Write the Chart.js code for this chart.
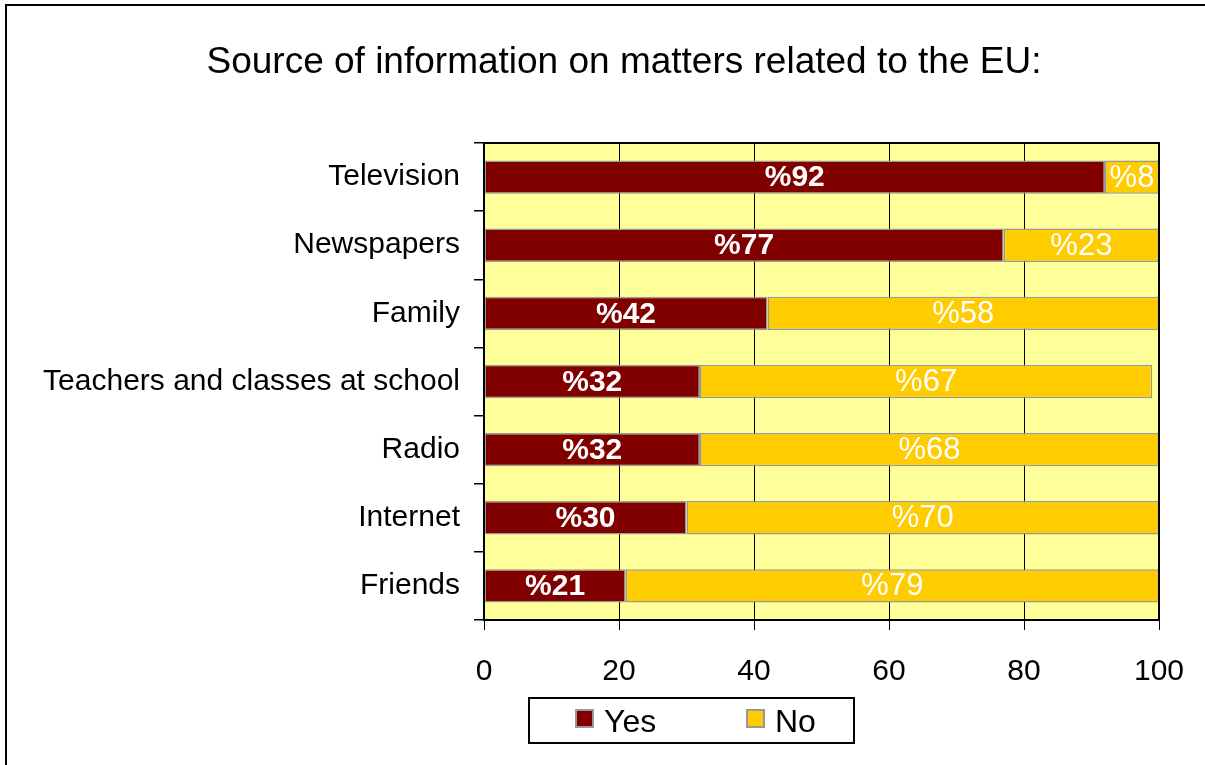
<!DOCTYPE html>
<html>
<head>
<meta charset="utf-8">
<script src="https://cdn.jsdelivr.net/npm/chart.js@4.4.1/dist/chart.umd.min.js"></script>
<style>
  html, body { margin: 0; padding: 0; background: #fff; }
  body { width: 1205px; height: 765px; position: relative; overflow: hidden; font-family: "Liberation Sans", Arial, sans-serif; }
  #frame { position: absolute; left: 5px; top: 4px; width: 1300px; height: 900px; border: 2px solid #000; box-sizing: border-box; pointer-events: none; }
  #wrap { position: absolute; left: 0; top: 0; width: 1205px; height: 765px; }
  #title { position: absolute; left: 124px; width: 1000px; top: 39px; text-align: center; font-size: 37px; line-height: 44px; color: #000; white-space: nowrap; }
  #legend { position: absolute; left: 528px; top: 697px; width: 327px; height: 47px; border: 2px solid #000; box-sizing: border-box; background: #fff; }
  .item { position: absolute; top: 6px; font-size: 32px; line-height: 32px; color: #000; }
  .sw { position: absolute; top: 10px; width: 19px; height: 19px; border: 2px solid #999; box-sizing: border-box; }
</style>
</head>
<body>
<div id="wrap"><canvas id="c" width="1205" height="765"></canvas></div>
<div id="frame"></div>
<div id="title"></div>
<div id="legend"></div>
<script>
// Survey answers: where people get information about the EU (percent)
const titleText = "Source of information on matters related to the EU:";
const categories = ["Television", "Newspapers", "Family", "Teachers and classes at school", "Radio", "Internet", "Friends"];
const yesValues = [92, 77, 42, 32, 32, 30, 21];
const noValues  = [8, 23, 58, 67, 68, 70, 79];
const seriesNames = ["Yes", "No"];
const xTicks = [0, 20, 40, 60, 80, 100];

const YES_COLOR = "#800000";
const NO_COLOR = "#FFCC00";
const FONT = "'Liberation Sans', Arial, sans-serif";

document.getElementById("title").textContent = titleText;

// light yellow plot background and black frame around the plot area
const plotArea = {
  id: "plotArea",
  beforeDraw(chart) {
    const { ctx, chartArea: a } = chart;
    ctx.save();
    ctx.fillStyle = "#FFFF99";
    ctx.fillRect(a.left, a.top, a.right - a.left, a.bottom - a.top);
    ctx.restore();
  },
  afterDraw(chart) {
    const { ctx, chartArea: a } = chart;
    ctx.save();
    ctx.strokeStyle = "#000";
    ctx.lineWidth = 2;
    ctx.strokeRect(a.left, a.top, a.right - a.left, a.bottom - a.top);
    ctx.restore();
  }
};

// percentage labels centred inside each bar segment
const barLabels = {
  id: "barLabels",
  afterDatasetsDraw(chart) {
    const { ctx } = chart;
    ctx.save();
    ctx.fillStyle = "#fff";
    ctx.textAlign = "center";
    ctx.textBaseline = "middle";
    chart.data.datasets.forEach((ds, di) => {
      const meta = chart.getDatasetMeta(di);
      ctx.font = (di === 0 ? "bold 30px " : "31px ") + FONT;
      meta.data.forEach((bar, i) => {
        const p = bar.getProps(["x", "y", "base"], true);
        ctx.fillText("%" + ds.data[i], (p.x + p.base) / 2, p.y + 1);
      });
    });
    ctx.restore();
  }
};

new Chart(document.getElementById("c"), {
  type: "bar",
  data: {
    labels: categories,
    datasets: [
      { label: seriesNames[0], data: yesValues, backgroundColor: YES_COLOR, borderColor: "#999", borderWidth: 1.5, borderSkipped: false },
      { label: seriesNames[1], data: noValues, backgroundColor: NO_COLOR, borderColor: "#999", borderWidth: 1.5, borderSkipped: false }
    ]
  },
  options: {
    indexAxis: "y",
    responsive: false,
    animation: false,
    devicePixelRatio: 1,
    barPercentage: 0.49,
    categoryPercentage: 1,
    layout: { padding: { left: 0, right: 46, top: 143, bottom: 0 } },
    plugins: {
      legend: { display: false },
      tooltip: { enabled: false },
      title: { display: false }
    },
    scales: {
      x: {
        stacked: true,
        min: 0,
        max: 100,
        afterBuildTicks(scale) { scale.ticks = xTicks.map(v => ({ value: v })); },
        afterFit(scale) { scale.height = 145; scale.paddingLeft = 0; scale.paddingRight = 0; },
        grid: { color: "#000", lineWidth: 1, tickLength: 10, drawTicks: true },
        border: { display: true, color: "#000", width: 2 },
        ticks: { color: "#000", padding: 24, font: { family: FONT, size: 30 } }
      },
      y: {
        stacked: true,
        afterFit(scale) { scale.width = 484; scale.paddingTop = 0; scale.paddingBottom = 0; },
        grid: { display: true, drawOnChartArea: false, drawTicks: true, tickLength: 10, color: "#000", lineWidth: 1.5, offset: true },
        border: { display: true, color: "#000", width: 2 },
        ticks: { color: "#000", padding: 14, font: { family: FONT, size: 30 } }
      }
    }
  },
  plugins: [plotArea, barLabels]
});

// legend below the plot
const legend = document.getElementById("legend");
const legendPos = [[45, 74], [216, 245]];
seriesNames.forEach((name, i) => {
  const sw = document.createElement("div");
  sw.className = "sw";
  sw.style.left = legendPos[i][0] + "px";
  sw.style.background = i === 0 ? YES_COLOR : NO_COLOR;
  legend.appendChild(sw);
  const t = document.createElement("div");
  t.className = "item";
  t.style.left = legendPos[i][1] + "px";
  t.textContent = name;
  legend.appendChild(t);
});
</script>
</body>
</html>
